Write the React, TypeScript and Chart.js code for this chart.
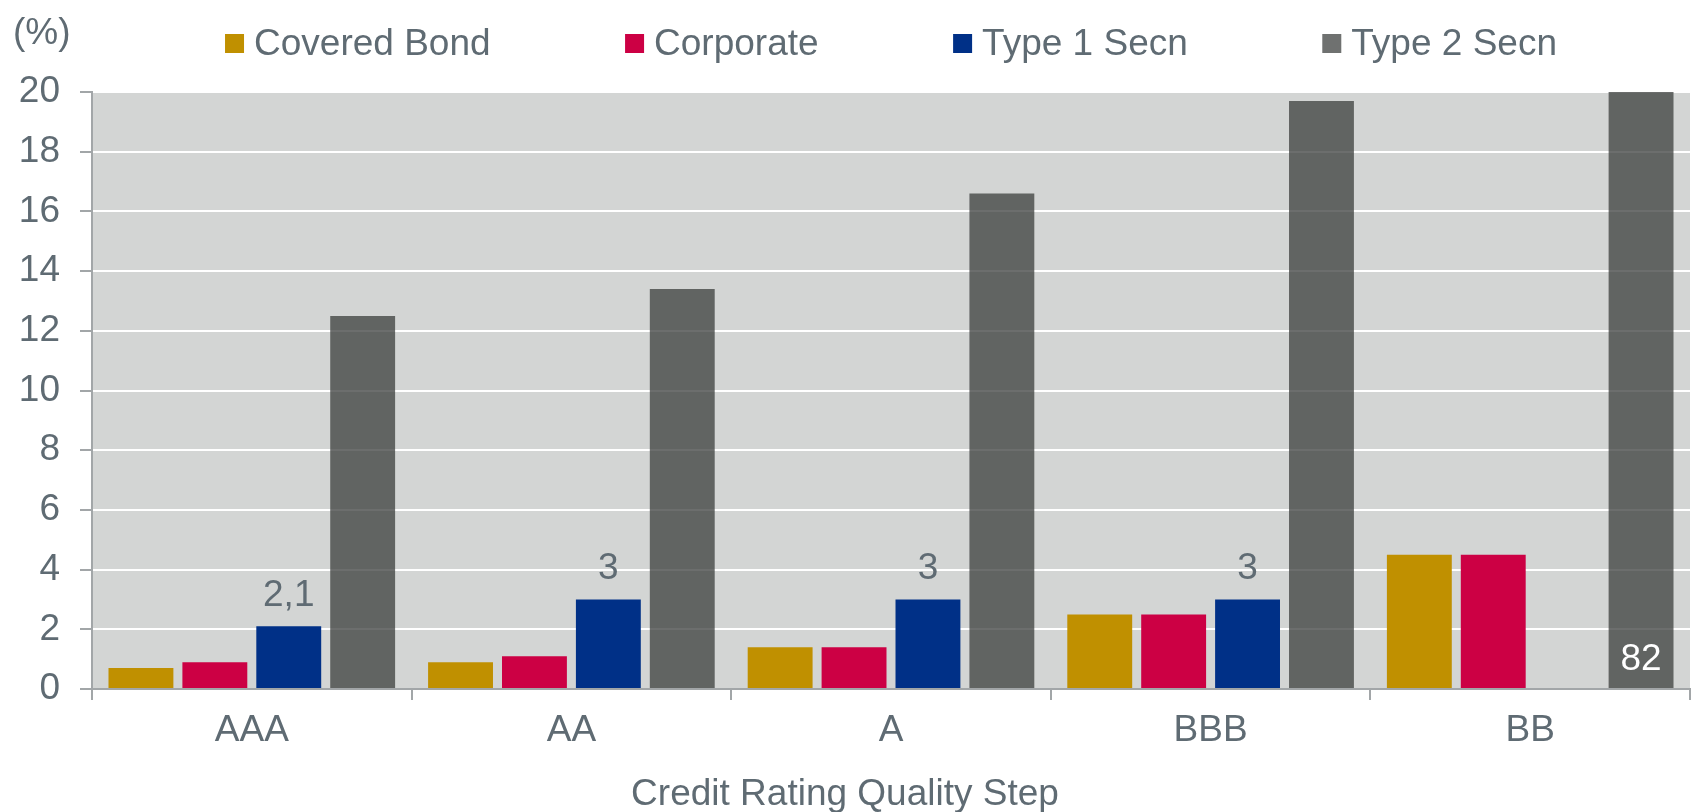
import React, { useEffect, useRef } from 'react';
import { Chart, registerables } from 'chart.js';

Chart.register(...registerables);

const categories = ['AAA', 'AA', 'A', 'BBB', 'BB'];
const seriesNames = ['Covered Bond', 'Corporate', 'Type 1 Secn', 'Type 2 Secn'];
const coveredBond = [0.7, 0.9, 1.4, 2.5, 4.5];
const corporate = [0.9, 1.1, 1.4, 2.5, 4.5];
const type1Secn: (number | null)[] = [2.1, 3, 3, 3, null];
const type2Secn = [12.5, 13.4, 16.6, 19.7, 82];
const type1Labels = ['2,1', '3', '3', '3', ''];
const type2Labels = ['', '', '', '', '82'];
const yMin = 0;
const yMax = 20;
const yStep = 2;
const yUnit = '(%)';
const xTitle = 'Credit Rating Quality Step';

const FONT = '"Liberation Sans", Arial, sans-serif';
const TEXT = '#5f6b73';
const AXIS = '#a2a6a8';
const FS = 37;

const colors = ['#c09000', '#cc0044', '#003087', 'rgba(59,61,60,0.75)'];
const legendColors = ['#c09000', '#cc0044', '#003087', '#6f7170'];

const decorPlugin = {
  id: 'decor',
  beforeDraw(chart: any) {
    const { ctx, chartArea: a } = chart;
    ctx.save();
    ctx.fillStyle = '#d3d5d4';
    ctx.fillRect(a.left, a.top, a.right - a.left, a.bottom - a.top);
    ctx.restore();
  },
  afterDatasetsDraw(chart: any) {
    const { ctx } = chart;
    ctx.save();
    ctx.font = `${FS}px ${FONT}`;
    ctx.textAlign = 'center';
    ctx.textBaseline = 'alphabetic';
    const m1 = chart.getDatasetMeta(2);
    type1Labels.forEach((t, i) => {
      const el = m1.data[i];
      if (!t || !el) return;
      ctx.fillStyle = TEXT;
      ctx.fillText(t, el.x, el.y - 20);
    });
    const m2 = chart.getDatasetMeta(3);
    type2Labels.forEach((t, i) => {
      const el = m2.data[i];
      if (!t || !el) return;
      ctx.fillStyle = '#ffffff';
      ctx.fillText(t, el.x, el.base - 18);
    });
    ctx.restore();
  },
  afterDraw(chart: any) {
    const { ctx, chartArea: a } = chart;
    ctx.save();
    ctx.font = `${FS}px ${FONT}`;
    ctx.textBaseline = 'alphabetic';
    ctx.fillStyle = TEXT;
    ctx.textAlign = 'left';
    ctx.fillText(yUnit, 13, 44);
    // x axis title
    ctx.textAlign = 'center';
    ctx.fillText(xTitle, 845, 805);
    // legend
    ctx.textAlign = 'left';
    const box = 19;
    const gapBox = 10;
    const gapItem = 134.5;
    const widths = seriesNames.map((n) => box + gapBox + ctx.measureText(n).width);
    const total = widths.reduce((s, w) => s + w, 0) + gapItem * (widths.length - 1);
    let x = (a.left + a.right) / 2 - total / 2;
    seriesNames.forEach((n, i) => {
      ctx.fillStyle = legendColors[i];
      ctx.fillRect(x, 34, box, box);
      ctx.fillStyle = TEXT;
      ctx.fillText(n, x + box + gapBox, 55);
      x += widths[i] + gapItem;
    });
    ctx.restore();
  },
};

export default function App() {
  const ref = useRef<HTMLCanvasElement | null>(null);
  useEffect(() => {
    document.body.style.margin = '0';
    if (!ref.current) return;
    const chart = new Chart(ref.current, {
      type: 'bar',
      data: {
        labels: categories,
        datasets: [coveredBond, corporate, type1Secn, type2Secn].map((d, i) => ({
          label: seriesNames[i],
          data: d,
          backgroundColor: colors[i],
          borderWidth: 0,
          categoryPercentage: 0.925,
          barPercentage: 0.878,
        })),
      },
      options: {
        animation: false,
        responsive: true,
        maintainAspectRatio: false,
        layout: { padding: { top: 92, left: 0, right: 4, bottom: 0 } },
        plugins: {
          legend: { display: false },
          tooltip: { enabled: false },
          title: { display: false },
        },
        scales: {
          x: {
            afterFit: (s: any) => { s.height = 123; },
            grid: { drawOnChartArea: false, drawTicks: true, tickLength: 11, color: AXIS, lineWidth: 2 },
            border: { color: AXIS, width: 2 },
            ticks: { color: TEXT, font: { family: FONT, size: FS, lineHeight: 1.2 }, padding: 9 },
          },
          y: {
            min: yMin,
            max: yMax,
            afterFit: (s: any) => { s.width = 92; },
            ticks: { stepSize: yStep, color: TEXT, font: { family: FONT, size: FS }, padding: 20 },
            grid: { color: '#ffffff', lineWidth: 2, tickLength: 12, tickColor: AXIS },
            border: { color: AXIS, width: 2 },
          },
        },
      },
      plugins: [decorPlugin],
    });
    return () => chart.destroy();
  }, []);
  return (
    <div style={{ position: 'relative', width: '1694px', height: '812px' }}>
      <canvas ref={ref} />
    </div>
  );
}
